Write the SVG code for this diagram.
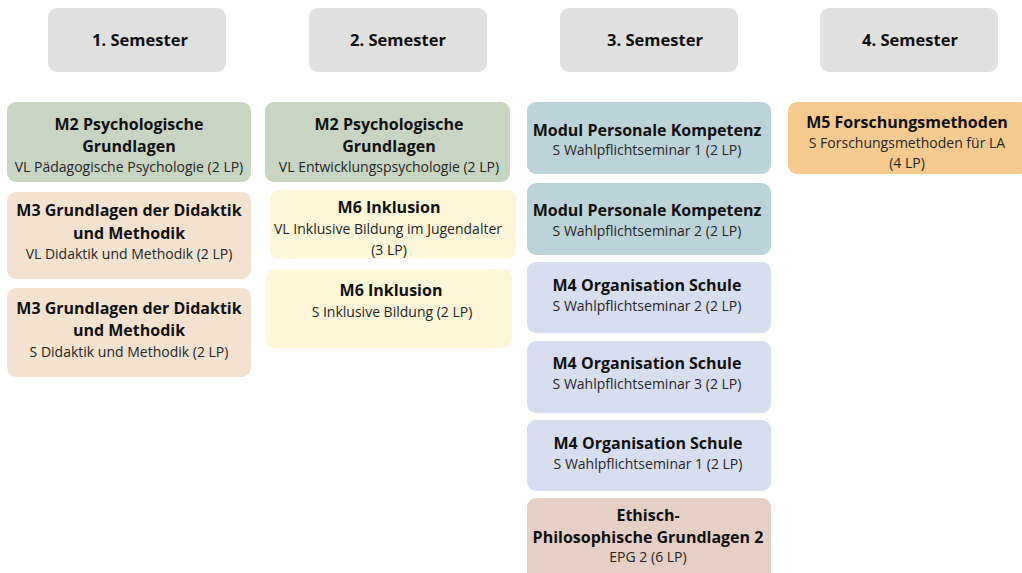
<svg xmlns="http://www.w3.org/2000/svg" width="1022" height="573" viewBox="0 0 1022 573">
<style>
text{font-family:"Open Sans","Noto Sans","Liberation Sans",sans-serif;text-anchor:middle}
.h{font-size:16.5px;font-weight:bold;fill:#111}
.t{font-size:16px;font-weight:bold;fill:#111}
.s{font-size:14px;fill:#262626}
.hd{fill:#e0e0e0}
.g{fill:#c8d5c2}
.p{fill:#f3e2d0}
.y{fill:#fdf6d9}
.b{fill:#bcd3d9}
.l{fill:#d7def0}
.e{fill:#e6cfc4}
.o{fill:#f6c98f}
</style>
<rect width="1022" height="573" fill="#fff"/>
<g id="sem1"><rect class="hd" x="48" y="8" width="178" height="64" rx="9"/><text class="h" x="140" y="46">1. Semester</text></g>
<g id="sem2"><rect class="hd" x="309" y="8" width="178" height="64" rx="9"/><text class="h" x="398" y="46">2. Semester</text></g>
<g id="sem3"><rect class="hd" x="560" y="8" width="178" height="64" rx="9"/><text class="h" x="655" y="46">3. Semester</text></g>
<g id="sem4"><rect class="hd" x="820" y="8" width="178" height="64" rx="9"/><text class="h" x="910" y="46">4. Semester</text></g>

<g id="c1m2"><rect class="g" x="7" y="102" width="244" height="80" rx="9"/>
<text class="t" x="129" y="130">M2 Psychologische</text><text class="t" x="129" y="152">Grundlagen</text><text class="s" x="129" y="172">VL Pädagogische Psychologie (2 LP)</text></g>
<g id="c1m3vl"><rect class="p" x="7" y="192" width="244" height="87" rx="9"/>
<text class="t" x="129" y="216">M3 Grundlagen der Didaktik</text><text class="t" x="129" y="239">und Methodik</text><text class="s" x="129" y="259">VL Didaktik und Methodik (2 LP)</text></g>
<g id="c1m3s"><rect class="p" x="7" y="288" width="244" height="89" rx="9"/>
<text class="t" x="129" y="314">M3 Grundlagen der Didaktik</text><text class="t" x="129" y="336">und Methodik</text><text class="s" x="129" y="357">S Didaktik und Methodik (2 LP)</text></g>

<g id="c2m2"><rect class="g" x="265" y="102" width="245" height="80" rx="9"/>
<text class="t" x="389" y="130">M2 Psychologische</text><text class="t" x="389" y="152">Grundlagen</text><text class="s" x="389" y="172">VL Entwicklungspsychologie (2 LP)</text></g>
<g id="c2m6vl"><rect class="y" x="270" y="190" width="246" height="69" rx="9"/>
<text class="t" x="389" y="213">M6 Inklusion</text><text class="s" x="388" y="234">VL Inklusive Bildung im Jugendalter</text><text class="s" x="389" y="255">(3 LP)</text></g>
<g id="c2m6s"><rect class="y" x="266" y="269" width="246" height="79" rx="9"/>
<text class="t" x="391" y="296">M6 Inklusion</text><text class="s" x="392" y="317">S Inklusive Bildung (2 LP)</text></g>

<g id="c3pk1"><rect class="b" x="527" y="102" width="244" height="72" rx="9"/>
<text class="t" x="647" y="136">Modul Personale Kompetenz</text><text class="s" x="647" y="155">S Wahlpflichtseminar 1 (2 LP)</text></g>
<g id="c3pk2"><rect class="b" x="527" y="183" width="244" height="72" rx="9"/>
<text class="t" x="647" y="216">Modul Personale Kompetenz</text><text class="s" x="647" y="236">S Wahlpflichtseminar 2 (2 LP)</text></g>
<g id="c3m4a"><rect class="l" x="527" y="262" width="244" height="71" rx="9"/>
<text class="t" x="647" y="291">M4 Organisation Schule</text><text class="s" x="647" y="311">S Wahlpflichtseminar 2 (2 LP)</text></g>
<g id="c3m4b"><rect class="l" x="527" y="341" width="244" height="72" rx="9"/>
<text class="t" x="647" y="369">M4 Organisation Schule</text><text class="s" x="647" y="389">S Wahlpflichtseminar 3 (2 LP)</text></g>
<g id="c3m4c"><rect class="l" x="527" y="420" width="244" height="71" rx="9"/>
<text class="t" x="648" y="449">M4 Organisation Schule</text><text class="s" x="648" y="469">S Wahlpflichtseminar 1 (2 LP)</text></g>
<g id="c3epg"><rect class="e" x="527" y="498" width="244" height="90" rx="9"/>
<text class="t" x="648" y="521">Ethisch-</text><text class="t" x="648" y="543">Philosophische Grundlagen 2</text><text class="s" x="648" y="562">EPG 2 (6 LP)</text></g>

<g id="c4m5"><rect class="o" x="788" y="102" width="240" height="72" rx="9"/>
<text class="t" x="907" y="128">M5 Forschungsmethoden</text><text class="s" x="907" y="148">S Forschungsmethoden für LA</text><text class="s" x="907" y="168">(4 LP)</text></g>

<g id="connectors"></g>
</svg>
